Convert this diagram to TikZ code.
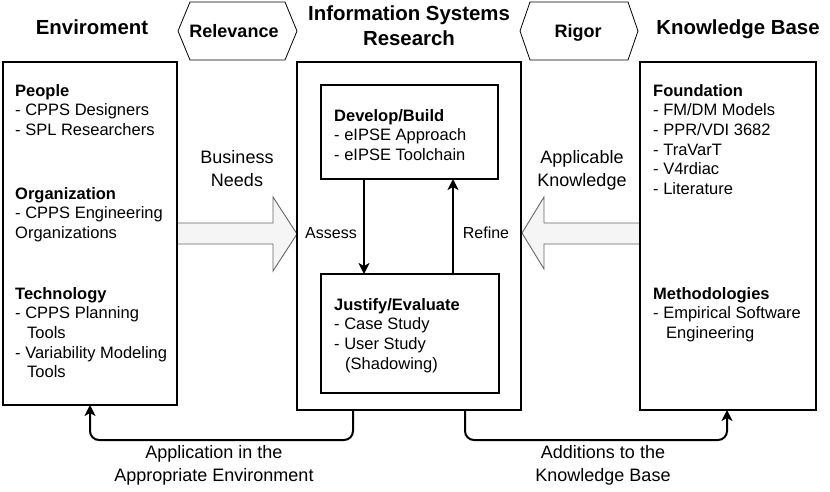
\documentclass[tikz,border=0pt]{standalone}
\usepackage{fontspec}
\setmainfont{Liberation Sans}
\usetikzlibrary{arrows.meta}
\begin{document}
\begin{tikzpicture}[x=1pt,y=-1pt,
  box/.style={draw=black,line width=1.2pt,anchor=north west,inner sep=0pt,outer sep=0pt},
  body/.style={anchor=base west,align=left,inner sep=0pt,font=\fontsize{16.5}{19.7}\selectfont},
  title/.style={anchor=base,align=center,inner sep=0pt,font=\fontsize{20.4}{25.5}\selectfont\bfseries},
  lbl/.style={anchor=base,align=center,inner sep=0pt,font=\fontsize{18}{23}\selectfont},
  smalllbl/.style={anchor=base,inner sep=0pt,font=\fontsize{16}{19.7}\selectfont},
  hexlbl/.style={anchor=base,inner sep=0pt,font=\fontsize{18}{22}\selectfont\bfseries},
  hexa/.style={draw=black,line width=0.8pt},
  bigarrow/.style={draw=black!60,fill=black!4,line width=0.9pt,line join=miter},
  arr/.style={line width=2pt,-{Stealth[length=11pt,width=11pt,inset=3pt]}},
  conn/.style={line width=2pt,rounded corners=9pt,-{Stealth[length=11pt,width=11pt,inset=3pt]}}]
\useasboundingbox (0,0) rectangle (830,491);

% big arrows
\draw[bigarrow] (177,223) -- (273,223) -- (273,197) -- (297,234) -- (273,271) -- (273,244) -- (177,244) -- cycle;
\draw[bigarrow] (640,223) -- (544,223) -- (544,197) -- (522,233) -- (544,269) -- (544,244) -- (640,244) -- cycle;

% boxes
\node[box,minimum width=174pt,minimum height=343pt] (env) at (3,62) {};
\node[box,minimum width=224pt,minimum height=348pt] (isr) at (297,62) {};
\node[box,minimum width=177pt,minimum height=94pt] (build) at (321,85) {};
\node[box,minimum width=178pt,minimum height=119pt] (eval) at (321,274) {};
\node[box,minimum width=176pt,minimum height=348pt] (kb) at (640,62) {};

% hexagons
\draw[hexa] (178,31) -- (190,2) -- (285,2) -- (297,31) -- (285,60) -- (190,60) -- cycle;
\node[hexlbl] (rel) at (234,37) {Relevance};
\draw[hexa] (520,31) -- (530,2) -- (628,2) -- (638,31) -- (628,60) -- (530,60) -- cycle;
\node[hexlbl] (rig) at (578,37) {Rigor};

% titles (base anchor = last line)
\node[title] (t1) at (92,34) {Enviroment};
\node[title] (t2) at (409,45.5) {Information Systems\\Research};
\node[title] (t3) at (738,34) {Knowledge Base};

% left box text
\node[body] (p1) at (15,135.4) {\textbf{People}\\- CPPS Designers\\- SPL Researchers};
\node[body] (p2) at (15,238.4) {\textbf{Organization}\\- CPPS Engineering\\Organizations};
\node[body] (p3) at (15,377.8) {\textbf{Technology}\\- CPPS Planning\\\hspace*{12pt}Tools\\- Variability Modeling\\\hspace*{12pt}Tools};

% right box text
\node[body] (f1) at (653,194.5) {\textbf{Foundation}\\- FM/DM Models\\- PPR/VDI 3682\\- TraVarT\\- V4rdiac\\- Literature};
\node[body] (f2) at (653,338.4) {\textbf{Methodologies}\\- Empirical Software\\\hspace*{13pt}Engineering};

% inner boxes text
\node[body] (b1) at (334,160.4) {\textbf{Develop/Build}\\- eIPSE Approach\\- eIPSE Toolchain};
\node[body] (e1) at (334,369.1) {\textbf{Justify/Evaluate}\\- Case Study\\- User Study\\\hspace*{11pt}(Shadowing)};

% labels
\node[lbl] (bn) at (237,186) {Business\\Needs};
\node[lbl] (ak) at (582,186) {Applicable\\Knowledge};
\node[smalllbl] (as) at (331,238) {Assess};
\node[smalllbl] (rf) at (486,238) {Refine};
\node[lbl] (ap) at (214,481) {Application in the\\Appropriate Environment};
\node[lbl] (ad) at (603,481) {Additions to the\\Knowledge Base};

% connectors
\coordinate (xa) at (364,0);
\coordinate (xr) at (453,0);
\draw[arr] (xa |- build.south) -- (xa |- eval.north);
\draw[arr] (xr |- eval.north) -- (xr |- build.south);
\coordinate (x1) at (353,0);
\coordinate (x2) at (90,0);
\coordinate (x3) at (465,0);
\coordinate (x4) at (727,0);
\coordinate (hy) at (0,440);
\draw[conn] (x1 |- isr.south) -- (x1 |- hy) -- (x2 |- hy) -- (x2 |- env.south);
\draw[conn] (x3 |- isr.south) -- (x3 |- hy) -- (x4 |- hy) -- (x4 |- kb.south);
\end{tikzpicture}
\end{document}
